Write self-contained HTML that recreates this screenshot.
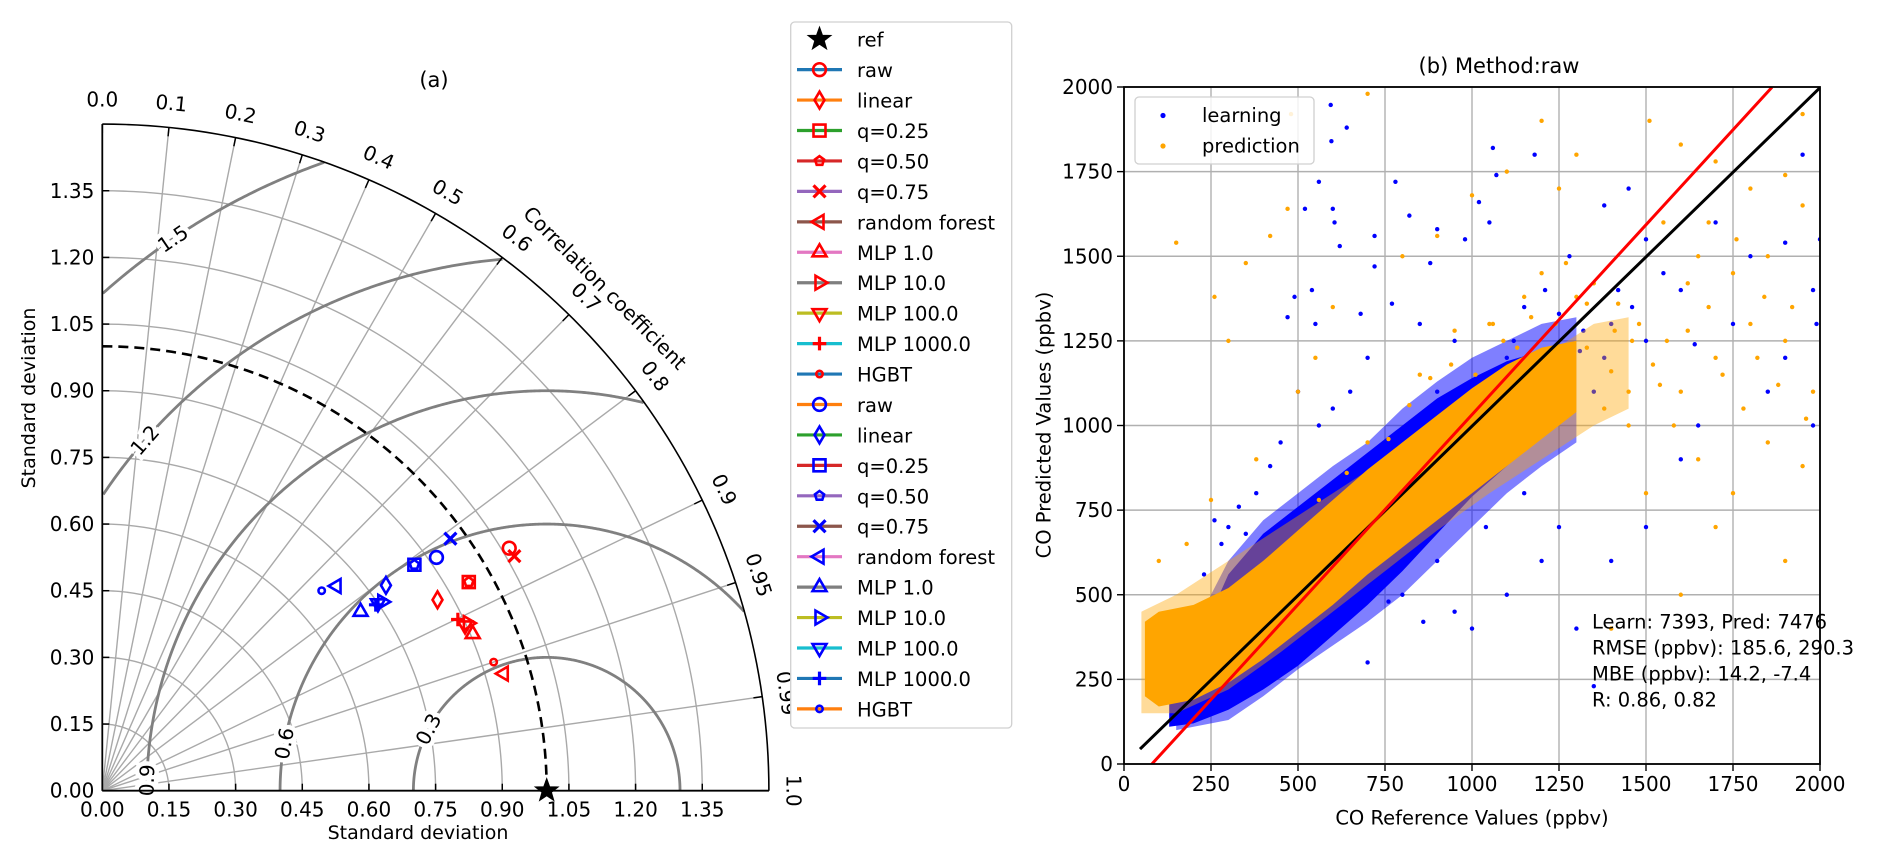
<!DOCTYPE html>
<html><head><meta charset="utf-8"><style>
html,body{margin:0;padding:0;background:#fff;}
svg text{font-family:"DejaVu Sans","Liberation Sans",sans-serif;fill:#000;}
</style></head>
<body>
<svg id="fig" xmlns="http://www.w3.org/2000/svg" width="1892" height="861" viewBox="0 0 1892 861">
<rect width="1892" height="861" fill="#fff"/>
<g id="taylor"></g>
<g id="legendA"></g>
<g id="scatter"></g>
</svg>
<script>
// ---------- Taylor data ----------
const methodNames = ["raw","linear","q=0.25","q=0.50","q=0.75","random forest","MLP 1.0","MLP 10.0","MLP 100.0","MLP 1000.0","HGBT"];
const markerTypes = ["circle","diamond","square","pentagon","x","tri-left","tri-up","tri-right","tri-down","plus","dot"];
const redStd  = [1.066,0.868,0.949,0.949,1.067,0.941,0.905,0.905,0.897,0.888,0.927];
const redCorr = [0.859,0.869,0.869,0.869,0.869,0.960,0.921,0.909,0.910,0.901,0.950];
const blueStd  = [0.917,0.788,0.867,0.867,0.967,0.700,0.707,0.760,0.750,0.744,0.668];
const blueCorr = [0.820,0.810,0.810,0.810,0.810,0.753,0.822,0.829,0.827,0.827,0.739];
const refStd = 1.0;
const stdTicks = [0,0.15,0.30,0.45,0.60,0.75,0.90,1.05,1.20,1.35];
const corrTicks = [0,0.1,0.2,0.3,0.4,0.5,0.6,0.7,0.8,0.9,0.95,0.99,1.0];
const corrTickLabels = ["0.0","0.1","0.2","0.3","0.4","0.5","0.6","0.7","0.8","0.9","0.95","0.99","1.0"];
const rayCorrs = [0.1,0.2,0.3,0.4,0.5,0.6,0.7,0.8,0.9,0.95,0.99];
const rmsLevels = [0.3,0.6,0.9,1.2,1.5];
const rmsLabelAngles = [152.5,169.8,178.5,138.9,124.1];
const tab = ["#1f77b4","#ff7f0e","#2ca02c","#d62728","#9467bd","#8c564b","#e377c2","#7f7f7f","#bcbd22","#17becf"];

// ---------- Scatter data ----------
const xTicks = [0,250,500,750,1000,1250,1500,1750,2000];
const yTicks = [0,250,500,750,1000,1250,1500,1750,2000];
const blueHazeX    = [150,300,400,500,600,700,800,900,1000,1100,1200,1300];
const blueHazeLow  = [100,130,200,280,350,420,500,600,700,800,880,950];
const blueHazeHigh = [300,600,720,800,880,950,1050,1130,1200,1250,1300,1320];
const blueBandX    = [130,200,300,400,500,600,700,800,900,1000,1100,1200];
const blueBandLow  = [110,120,160,220,290,380,470,570,680,790,880,980];
const blueBandHigh = [200,330,560,680,760,840,920,1000,1080,1140,1190,1220];
const orangeHazeX    = [50,150,300,450,600,750,900,1050,1200,1350,1450];
const orangeHazeLow  = [150,150,220,330,450,570,690,800,900,1000,1050];
const orangeHazeHigh = [450,500,600,700,800,900,1000,1100,1200,1300,1320];
const orangeBandX    = [60,100,200,300,400,500,600,700,800,900,1000,1100,1200,1300];
const orangeBandLow  = [200,170,190,240,310,390,470,560,640,720,800,880,960,1040];
const orangeBandHigh = [420,450,470,520,600,690,780,870,950,1030,1110,1180,1230,1250];
const blueX = [594,596,640,560,520,600,605,470,550,540,490,620,720,780,820,900,880,720,770,680,980,1050,1020,1070,1060,1180,1280,1380,1450,1500,1600,1700,1800,1900,1950,1980,1900,1750,1640,1500,1400,1350,1250,1150,1100,950,900,850,700,650,600,560,500,450,420,380,300,280,330,1200,1100,1000,950,900,800,700,1350,1300,1400,1500,1250,1150,1600,1650,1850,2000,1980,1990,1120,1230,1320,1420,1270,1180,1080,1380,1460,1550,1210,1310,260,350,230,400,620,760,860,1040];
const blueY = [1947,1840,1880,1720,1640,1640,1600,1320,1300,1400,1380,1530,1560,1720,1620,1580,1480,1470,1360,1330,1550,1600,1660,1740,1820,1800,1500,1650,1700,1550,1400,1600,1500,1540,1800,1400,1200,1300,1240,1250,1300,1100,1330,1350,1200,1250,1100,1300,1200,1100,1050,1000,1100,950,880,800,700,650,760,600,500,400,450,600,500,300,230,400,600,700,700,800,900,1000,1100,1550,1000,1300,1250,1150,1280,1400,1050,1080,1150,1200,1350,1450,1400,1220,720,680,560,420,600,480,420,700,640];
const orangeX = [150,260,350,300,420,470,480,700,1510,1600,1700,1800,1900,1950,1550,1650,1750,1850,1950,1800,1700,1600,1850,1950,1980,1900,1700,1600,1500,1400,1750,1450,1300,1250,1200,1100,1000,900,800,600,550,500,380,250,180,100,1350,1420,1480,1560,1620,1680,1720,1780,1820,1880,1920,1960,1400,1330,1270,1150,1050,950,850,1380,1450,1520,1580,1650,1540,1460,1620,1680,1760,1840,1900,1300,1200,640,560,700,760,820,880,940,1010,1090,1170,1240,1330,1410,1130,1060];
const orangeY = [1540,1380,1480,1250,1560,1640,1920,1980,1900,1830,1780,1700,1740,1920,1600,1500,1450,1500,1650,1300,1200,1100,950,880,1100,600,700,500,800,400,800,1000,1800,1700,1900,1750,1680,1560,1500,1350,1200,1100,900,780,650,600,1420,1360,1300,1250,1280,1350,1150,1050,1200,1120,1350,1020,1160,1230,1480,1380,1300,1280,1150,1050,1100,1180,1000,900,1120,1250,1420,1600,1550,1380,1250,1380,1450,860,780,950,960,1060,1140,1180,1150,1250,1320,1300,1360,1280,1230,1300];
const fitSlope = [1.0, 1.122];
const fitIntercept = [-2, -90];
const fitXStart = [46, 80];
const fitXEnd = [2000, 1862];
const fitColors = ["#000000","#ff0000"];
const annotLines = ["Learn: 7393, Pred: 7476","RMSE (ppbv): 185.6, 290.3","MBE (ppbv): 14.2, -7.4","R: 0.86, 0.82"];

const NS="http://www.w3.org/2000/svg";
function mk(tag, attrs, parent){const e=document.createElementNS(NS,tag);for(const k in attrs)e.setAttribute(k,attrs[k]);if(parent)parent.appendChild(e);return e;}
function txt(parent,x,y,s,size,anchor,rot,extra){const t=mk("text",{x:x,y:y,"font-size":size,"text-anchor":anchor||"start","dominant-baseline":"central"},parent);if(rot)t.setAttribute("transform","rotate("+rot+" "+x+" "+y+")");if(extra)for(const k in extra)t.setAttribute(k,extra[k]);t.textContent=s;return t;}

// ---------- Taylor ----------
const T=document.getElementById("taylor");
const OX=102.3, OY=790.7, R=444.4, RMAX=1.5;
function tx(r,th){return OX+R*r*Math.cos(th);}
function ty(r,th){return OY-R*r*Math.sin(th);}
function arcPath(r){let d="";for(let i=0;i<=90;i++){const th=i*Math.PI/180;d+=(i?"L":"M")+tx(r,th).toFixed(2)+" "+ty(r,th).toFixed(2);}return d;}
for(let i=1;i<stdTicks.length;i++){const p=mk("path",{d:arcPath(stdTicks[i]),fill:"none",stroke:"#a9a9a9","stroke-width":1.4},T);

}
rayCorrs.forEach(c=>{const th=Math.acos(c);const l=mk("line",{x1:OX,y1:OY,x2:tx(RMAX,th),y2:ty(RMAX,th),stroke:"#a9a9a9","stroke-width":1.4},T);

});
rmsLevels.forEach((c,k)=>{let d="",pen=false;for(let i=0;i<=720;i++){const ph=i*Math.PI/720;const x=refStd+c*Math.cos(ph),y=c*Math.sin(ph);const r=Math.hypot(x,y);if(x>=0&&r<=RMAX){d+=(pen?"L":"M")+(OX+R*x).toFixed(2)+" "+(OY-R*y).toFixed(2);pen=true;}else pen=false;}
const p=mk("path",{d:d,fill:"none",stroke:"#808080","stroke-width":2.8},T);


const ph=rmsLabelAngles[k]*Math.PI/180;const lx=OX+R*(refStd+c*Math.cos(ph)),ly=OY-R*c*Math.sin(ph);
const t=txt(T,lx,ly,String(c),20,"middle",-(rmsLabelAngles[k]-90),{fill:"#808080",stroke:"#fff","stroke-width":9,"paint-order":"stroke"});

});
const da=mk("path",{d:arcPath(refStd),fill:"none",stroke:"#000","stroke-width":2.6,"stroke-dasharray":"10 6"},T);


const oa=mk("path",{d:arcPath(RMAX),fill:"none",stroke:"#000","stroke-width":1.6},T);


const ax1=mk("line",{x1:OX,y1:OY,x2:OX,y2:ty(RMAX,Math.PI/2),stroke:"#000","stroke-width":1.8},T);


const ax2=mk("line",{x1:OX,y1:OY,x2:tx(RMAX,0),y2:OY,stroke:"#000","stroke-width":1.8},T);


stdTicks.forEach(v=>{
 const a=mk("line",{x1:OX,y1:OY-R*v,x2:OX+7,y2:OY-R*v,stroke:"#000","stroke-width":1.5},T);
 
 
 const b=mk("line",{x1:OX+R*v,y1:OY,x2:OX+R*v,y2:OY-7,stroke:"#000","stroke-width":1.5},T);
 
 
 const s=v.toFixed(2);
 const t1=txt(T,OX-8,OY-R*v,s,20,"end");
 
 
 const t2=txt(T,OX+R*v,OY+19,s,20,"middle");
 
 
});
corrTicks.forEach((c,i)=>{const th=Math.acos(c);
 const l=mk("line",{x1:tx(RMAX,th),y1:ty(RMAX,th),x2:tx(RMAX-0.02,th),y2:ty(RMAX-0.02,th),stroke:"#000","stroke-width":1.5},T);
 
 
 const rr=RMAX+0.055;const t=txt(T,tx(rr,th),ty(rr,th),corrTickLabels[i],20,"middle",90-th*180/Math.PI);
 
 });
{const th=Math.PI/4,rr=1.6;const t=txt(T,tx(rr,th),ty(rr,th),"Correlation coefficient",20,"middle",45);

}
{const t=txt(T,434,80,"(a)",21,"middle");

}
{const t=txt(T,418,833,"Standard deviation",19,"middle");

}
{const t=txt(T,29,398,"Standard deviation",19,"middle",-90);

}

function marker(parent,type,cx,cy,col,s){
 s=s||8;const w=2.6;let e;
 const poly=pts=>mk("polygon",{points:pts.map(p=>(cx+p[0]).toFixed(2)+","+(cy+p[1]).toFixed(2)).join(" "),fill:"#fff","fill-opacity":0,stroke:col,"stroke-width":w},parent);
 switch(type){
  case "circle": e=mk("circle",{cx:cx,cy:cy,r:s*0.8,fill:"none",stroke:col,"stroke-width":w},parent);break;
  case "dot": e=mk("circle",{cx:cx,cy:cy,r:s*0.4,fill:"none",stroke:col,"stroke-width":w},parent);break;
  case "diamond": e=poly([[0,-s*1.05],[s*0.62,0],[0,s*1.05],[-s*0.62,0]]);break;
  case "square": e=poly([[-s*0.75,-s*0.75],[s*0.75,-s*0.75],[s*0.75,s*0.75],[-s*0.75,s*0.75]]);break;
  case "pentagon": {const p=[];for(let i=0;i<5;i++){const a=-Math.PI/2+i*2*Math.PI/5;p.push([s*0.6*Math.cos(a),s*0.6*Math.sin(a)]);}e=poly(p);break;}
  case "x": e=mk("path",{d:`M${cx-s*0.75} ${cy-s*0.75}L${cx+s*0.75} ${cy+s*0.75}M${cx-s*0.75} ${cy+s*0.75}L${cx+s*0.75} ${cy-s*0.75}`,stroke:col,"stroke-width":w+0.6,fill:"none"},parent);break;
  case "plus": e=mk("path",{d:`M${cx-s*0.85} ${cy}L${cx+s*0.85} ${cy}M${cx} ${cy-s*0.85}L${cx} ${cy+s*0.85}`,stroke:col,"stroke-width":w+0.6,fill:"none"},parent);break;
  case "tri-up": e=poly([[0,-s],[s*0.87,s*0.5],[-s*0.87,s*0.5]]);break;
  case "tri-down": e=poly([[0,s],[s*0.87,-s*0.5],[-s*0.87,-s*0.5]]);break;
  case "tri-left": e=poly([[-s,0],[s*0.5,-s*0.87],[s*0.5,s*0.87]]);break;
  case "tri-right": e=poly([[s,0],[-s*0.5,-s*0.87],[-s*0.5,s*0.87]]);break;
  case "star": {const p=[];for(let i=0;i<10;i++){const a=-Math.PI/2+i*Math.PI/5;const rr=i%2?s*0.45:s*1.1;p.push([rr*Math.cos(a),rr*Math.sin(a)]);}
   e=mk("polygon",{points:p.map(q=>(cx+q[0])+","+(cy+q[1])).join(" "),fill:col,stroke:col,"stroke-width":1},parent);break;}
 }
 return e;
}
const ptsG=mk("g",{},T);


function plotSet(stds,corrs,col,setName){for(let i=0;i<stds.length;i++){const th=Math.acos(corrs[i]);
 const m=marker(ptsG,markerTypes[i],tx(stds[i],th),ty(stds[i],th),col,8);
 
 }}
plotSet(redStd,redCorr,"#ff0000","learning");
plotSet(blueStd,blueCorr,"#0000ff","prediction");
{const st=marker(ptsG,"star",tx(refStd,0),ty(refStd,0),"#000",11);

}

// ---------- legend (a) ----------
const L=document.getElementById("legendA");
const LY0=39.2, LDY=30.44;
const lb=mk("rect",{x:790.7,y:22,width:221,height:706,rx:4,fill:"#fff",stroke:"#d0d0d0","stroke-width":1.3},L);


function legendRow(i,label,lineCol,mType,mCol){const y=LY0+i*LDY;const g=mk("g",{},L);
 
 
 if(lineCol)mk("line",{x1:797,y1:y,x2:842,y2:y,stroke:lineCol,"stroke-width":3.2},g);
 marker(g,mType,819.5,y,mCol,mType==="star"?11:8);
 txt(g,857,y+1,label,19.5,"start");}
legendRow(0,"ref",null,"star","#000");
methodNames.forEach((n,i)=>legendRow(1+i,n,tab[i%10],markerTypes[i],"#ff0000"));
methodNames.forEach((n,i)=>legendRow(12+i,n,tab[(i+1)%10],markerTypes[i],"#0000ff"));

// ---------- Scatter ----------
const S=document.getElementById("scatter");
const PL=1124,PR=1820,PT=87,PB=764;
function sx(v){return PL+v*(PR-PL)/2000;}
function sy(v){return PB-v*(PB-PT)/2000;}
const clip=mk("clipPath",{id:"pc"},S);mk("rect",{x:PL,y:PT,width:PR-PL,height:PB-PT},clip);
xTicks.forEach(v=>{const g=mk("line",{x1:sx(v),y1:PT,x2:sx(v),y2:PB,stroke:"#b0b0b0","stroke-width":1.4},S);
 
 
 const t=mk("line",{x1:sx(v),y1:PB,x2:sx(v),y2:PB+7,stroke:"#000","stroke-width":1.4},S);
 
 
 const l=txt(S,sx(v),PB+20,String(v),20,"middle");
 
 });
yTicks.forEach(v=>{const g=mk("line",{x1:PL,y1:sy(v),x2:PR,y2:sy(v),stroke:"#b0b0b0","stroke-width":1.4},S);
 
 
 const t=mk("line",{x1:PL-7,y1:sy(v),x2:PL,y2:sy(v),stroke:"#000","stroke-width":1.4},S);
 
 
 const l=txt(S,PL-11,sy(v),String(v),20,"end");
 
 });
const data=mk("g",{"clip-path":"url(#pc)"},S);


function band(xs,lo,hi,col,op,name){let d="";for(let i=0;i<xs.length;i++)d+=(i?"L":"M")+sx(xs[i]).toFixed(1)+" "+sy(hi[i]).toFixed(1);
 for(let i=xs.length-1;i>=0;i--)d+="L"+sx(xs[i]).toFixed(1)+" "+sy(lo[i]).toFixed(1);
 const p=mk("path",{d:d+"Z",fill:col,"fill-opacity":op,stroke:"none"},data);
 
 }
function dots(xs,ys,col,name){for(let i=0;i<xs.length;i++){const c=mk("circle",{cx:sx(xs[i]),cy:sy(ys[i]),r:2.2,fill:col},data);
 
 }}
band(blueHazeX,blueHazeLow,blueHazeHigh,"#0000ff",0.5,"learning-sparse-cloud");
band(blueBandX,blueBandLow,blueBandHigh,"#0000ff",1,"learning-dense-cloud");
dots(blueX,blueY,"#0000ff","learning-point");
band(orangeHazeX,orangeHazeLow,orangeHazeHigh,"#ffa500",0.4,"prediction-sparse-cloud");
band(orangeBandX,orangeBandLow,orangeBandHigh,"#ffa500",1,"prediction-dense-cloud");
dots(orangeX,orangeY,"#ffa500","prediction-point");
for(let k=0;k<fitSlope.length;k++){const x1=fitXStart[k],x2=fitXEnd[k];
 const l=mk("line",{x1:sx(x1),y1:sy(fitSlope[k]*x1+fitIntercept[k]),x2:sx(x2),y2:sy(fitSlope[k]*x2+fitIntercept[k]),stroke:fitColors[k],"stroke-width":3},data);
 
 }
const fr=mk("rect",{x:PL,y:PT,width:PR-PL,height:PB-PT,fill:"none",stroke:"#000","stroke-width":1.8},S);


{const t=txt(S,1499,66,"(b)  Method:raw",21,"middle");

}
{const t=txt(S,1472,818,"CO Reference Values (ppbv)",19.5,"middle");

}
{const t=txt(S,1044,425,"CO Predicted Values (ppbv)",19.5,"middle",-90);

}
annotLines.forEach((s,i)=>{const t=txt(S,1592,622+i*26,s,19.5,"start");
 
 });
const SL=mk("g",{},S);


mk("rect",{x:1135,y:97,width:179,height:67,rx:4,fill:"#fff","fill-opacity":0.85,stroke:"#d0d0d0","stroke-width":1.3},SL);
[["learning","#0000ff"],["prediction","#ffa500"]].forEach((e,i)=>{const y=115.5+i*30.5;const g=mk("g",{},SL);
 
 
 mk("circle",{cx:1163,cy:y,r:2.6,fill:e[1]},g);txt(g,1202,y,e[0],19.5,"start");});
</script>
</body></html>
